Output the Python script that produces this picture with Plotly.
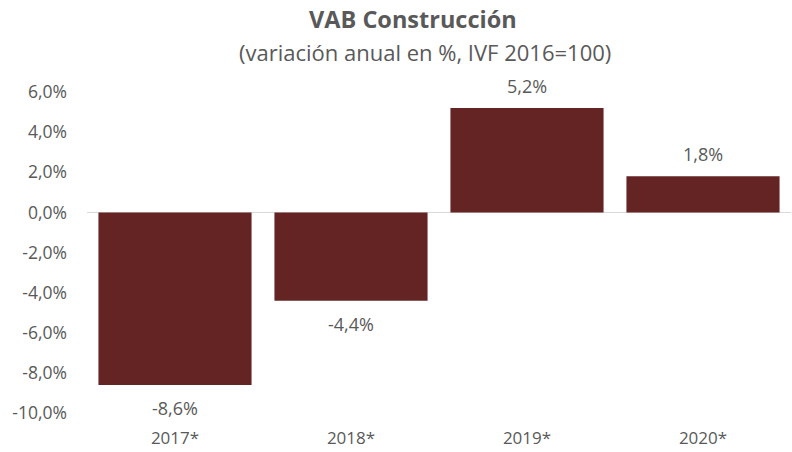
import plotly.graph_objects as go

categories = ["2017*", "2018*", "2019*", "2020*"]
values = [-8.6, -4.4, 5.2, 1.8]
tick_vals = [-10, -8, -6, -4, -2, 0, 2, 4, 6]
tick_text = [f"{v:.1f}%".replace(".", ",") for v in tick_vals]
value_labels = [f"{v:.1f}%".replace(".", ",") for v in values]

font_family = "Open Sans, Liberation Sans, sans-serif"
gray = "#595959"

fig = go.Figure(go.Bar(
    x=categories,
    y=values,
    marker=dict(color="#632423", line=dict(width=0)),
    width=0.87,
    hoverinfo="x+y",
))

annotations = [
    dict(text="<b>VAB Construcción</b>", xref="paper", yref="paper",
         x=0.463, y=394 / 321, xanchor="center", yanchor="middle", showarrow=False,
         font=dict(size=23.5, color=gray, family=font_family)),
    dict(text="(variación anual en %, IVF 2016=100)", xref="paper", yref="paper",
         x=0.48, y=361 / 321, xanchor="center", yanchor="middle", showarrow=False,
         font=dict(size=22, color=gray, family=font_family)),
]
for c, v, lab in zip(categories, values, value_labels):
    annotations.append(dict(
        text=lab, x=c, y=v, xref="x", yref="y",
        xanchor="center", yanchor="middle", showarrow=False,
        yshift=22 if v >= 0 else -23,
        font=dict(size=18, color=gray, family=font_family),
    ))

fig.update_layout(
    width=792, height=452,
    margin=dict(l=87, r=1, t=92, b=39, autoexpand=False),
    paper_bgcolor="white", plot_bgcolor="white",
    showlegend=False,
    font=dict(family=font_family, color=gray),
    annotations=annotations,
    xaxis=dict(
        showgrid=False, showline=False, ticks="", automargin=False,
        tickfont=dict(size=17, color=gray, family=font_family),
        ticklabelstandoff=13,
    ),
    yaxis=dict(
        range=[-10, 6], tickvals=tick_vals, ticktext=tick_text,
        showgrid=False, showline=False, ticks="", automargin=False,
        zeroline=True, zerolinecolor="#d9d9d9", zerolinewidth=1,
        tickfont=dict(size=17.5, color=gray, family=font_family),
        ticklabelstandoff=19,
    ),
)

fig.write_html(
    "out.html",
    config={"displayModeBar": False},
    post_script="document.body.style.margin='0';",
)
